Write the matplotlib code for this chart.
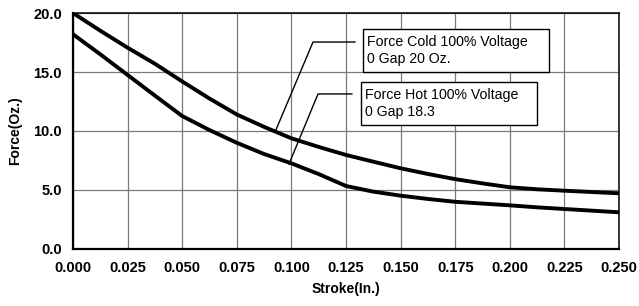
import matplotlib
matplotlib.use("Agg")
import matplotlib.pyplot as plt
from matplotlib.patches import Rectangle

plt.rcParams['font.family'] = ['Liberation Sans', 'DejaVu Sans']

# Data
stroke = [0.0000, 0.0125, 0.0250, 0.0375, 0.0500, 0.0625, 0.0750, 0.0875,
          0.1000, 0.1125, 0.1250, 0.1375, 0.1500, 0.1625, 0.1750, 0.1875,
          0.2000, 0.2125, 0.2250, 0.2375, 0.2500]
force_cold = [20.0, 18.5, 17.06, 15.7, 14.2, 12.75, 11.4, 10.35,
              9.38, 8.65, 7.97, 7.4, 6.84, 6.36, 5.92, 5.56,
              5.23, 5.06, 4.94, 4.83, 4.72]
force_hot = [18.2, 16.5, 14.75, 13.0, 11.27, 10.08, 9.0, 8.05,
             7.26, 6.35, 5.34, 4.86, 4.52, 4.24, 4.0, 3.85,
             3.7, 3.53, 3.39, 3.25, 3.11]

xticks = [0.000, 0.025, 0.050, 0.075, 0.100, 0.125, 0.150, 0.175, 0.200, 0.225, 0.250]
yticks = [0.0, 5.0, 10.0, 15.0, 20.0]

label_cold = "Force Cold 100% Voltage\n0 Gap 20 Oz."
label_hot = "Force Hot 100% Voltage\n0 Gap 18.3"

# leader lines (data coords): point on curve -> elbow -> box
lead_cold = ([0.0929, 0.1099, 0.1291], [10.08, 17.54, 17.54])
lead_hot = ([0.0989, 0.1122, 0.1277], [7.2, 13.14, 13.14])
box_cold = (0.1328, 15.0, 0.0851, 3.64)
box_hot = (0.1319, 10.51, 0.0806, 3.64)

fig = plt.figure(figsize=(6.39, 3.06), dpi=100)
ax = fig.add_axes([0.1142, 0.1863, 0.8545, 0.7712])

ax.plot(stroke, force_cold, color='black', lw=2.8, solid_capstyle='butt',
        solid_joinstyle='round', zorder=3)
ax.plot(stroke, force_hot, color='black', lw=2.8, solid_capstyle='butt',
        solid_joinstyle='round', zorder=3)

ax.set_xlim(0, 0.25)
ax.set_ylim(0, 20)
ax.set_xticks(xticks)
ax.set_yticks(yticks)
ax.set_xticklabels([f"{v:.3f}" for v in xticks], fontsize=10.5, fontweight='bold')
ax.set_yticklabels([f"{v:.1f}" for v in yticks], fontsize=10.5, fontweight='bold')
ax.tick_params(length=0)
ax.tick_params(axis='x', pad=9)
ax.tick_params(axis='y', pad=8)
ax.grid(True, color='#7a7a7a', lw=0.9)
ax.set_axisbelow(True)
for s in ['left', 'bottom']:
    ax.spines[s].set_linewidth(1.6)
for s in ['top', 'right']:
    ax.spines[s].set_linewidth(1.1)

ax.set_xlabel("Stroke(In.)", fontsize=10, fontweight='bold', labelpad=5)
ax.set_ylabel("Force(Oz.)", fontsize=10, fontweight='bold', labelpad=8)

for (lx, ly), box, lab in [(lead_cold, box_cold, label_cold), (lead_hot, box_hot, label_hot)]:
    ax.plot(lx, ly, color='black', lw=1.0, zorder=4, clip_on=False)
    bx, by, bw, bh = box
    ax.add_patch(Rectangle((bx, by), bw, bh, facecolor='white', edgecolor='black', lw=1.0, zorder=5))
    ax.text(bx + 0.0018, by + bh / 2, lab, ha='left', va='center', fontsize=10.2,
            linespacing=1.3, zorder=6)

fig.savefig("out.png", dpi=100)
